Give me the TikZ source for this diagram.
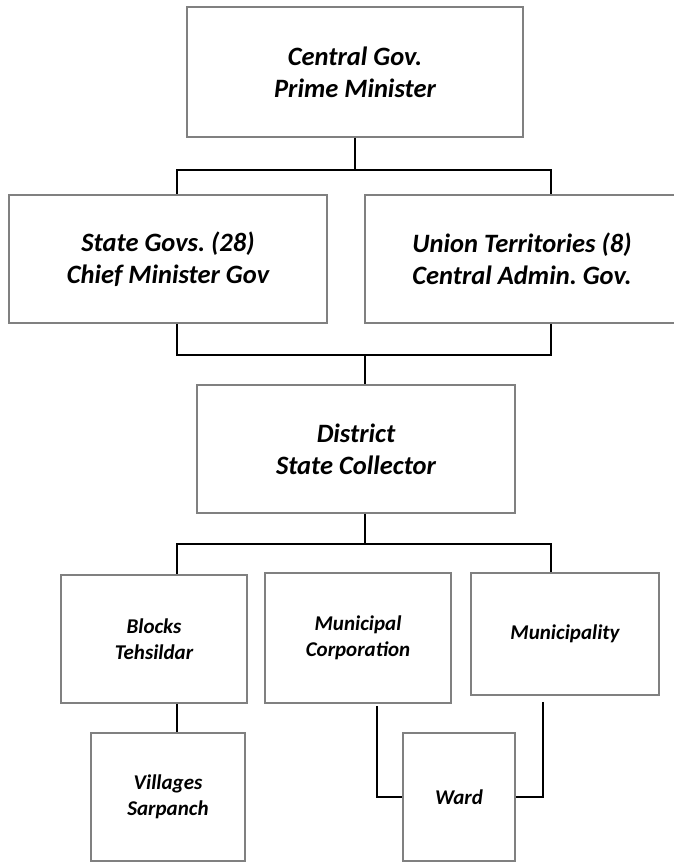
\documentclass[tikz,border=0pt]{standalone}
\usepackage{fontspec}
\setmainfont{Carlito}
\usetikzlibrary{calc}
\frenchspacing

\begin{document}
\begin{tikzpicture}[x=1pt,y=-1pt,
  box/.style={draw=black!50,line width=1.6pt,rectangle,align=center,inner sep=0pt,
    font=\fontsize{26.5}{32}\selectfont\bfseries\itshape},
  smallbox/.style={box,font=\fontsize{21}{26}\selectfont\bfseries\itshape},
  link/.style={draw=black,line width=2pt}]
\useasboundingbox (0,0) rectangle (674,862);
\node[box,minimum width=336,minimum height=130] (cent) at (355,72) {Central Gov.\\Prime Minister};
\node[box,minimum width=318,minimum height=128] (state) at (168,259) {State Govs. (28)\\Chief Minister Gov};
\node[box,minimum width=314,minimum height=128] (union) at (522,259) {Union Territories (8)\\Central Admin. Gov.};
\node[box,minimum width=318,minimum height=128] (dist) at (356,449) {District\\State Collector};
\node[smallbox,minimum width=186,minimum height=128] (blocks) at (154,639) {Blocks\\Tehsildar};
\node[smallbox,minimum width=186,minimum height=130] (mcorp) at (358,638) {Municipal\\Corporation};
\node[smallbox,minimum width=188,minimum height=122] (mty) at (565,634) {Municipality};
\node[smallbox,minimum width=154,minimum height=128] (vill) at (168,797) {Villages\\Sarpanch};
\node[smallbox,minimum width=112,minimum height=128] (ward) at (459,797) {Ward};
% columns of the stems
\coordinate (colL) at (177,0);
\coordinate (colM) at (365,0);
\coordinate (colR) at (551,0);
\coordinate (colC) at (377,0);
\coordinate (colW) at (543,0);
\draw[link] (cent.south) -- ++(0,32) -| (state.north -| colL);
\draw[link] (cent.south) -- ++(0,32) -| (union.north -| colR);
\draw[link] (state.south -| colL) -- ++(0,31) -| (dist.north -| colM);
\draw[link] (union.south -| colR) -- ++(0,31) -| (dist.north -| colM);
\draw[link] (dist.south -| colM) -- ++(0,30) -| (blocks.north -| colL);
\draw[link] (dist.south -| colM) -- ++(0,30) -| (mty.north -| colR);
\draw[link] (blocks.south -| colL) -- (vill.north -| colL);
\draw[link,shorten <=2pt] (mcorp.south -| colC) |- (ward.west);
\draw[link,shorten <=6pt] (mty.south -| colW) |- (ward.east);
\end{tikzpicture}
\end{document}
